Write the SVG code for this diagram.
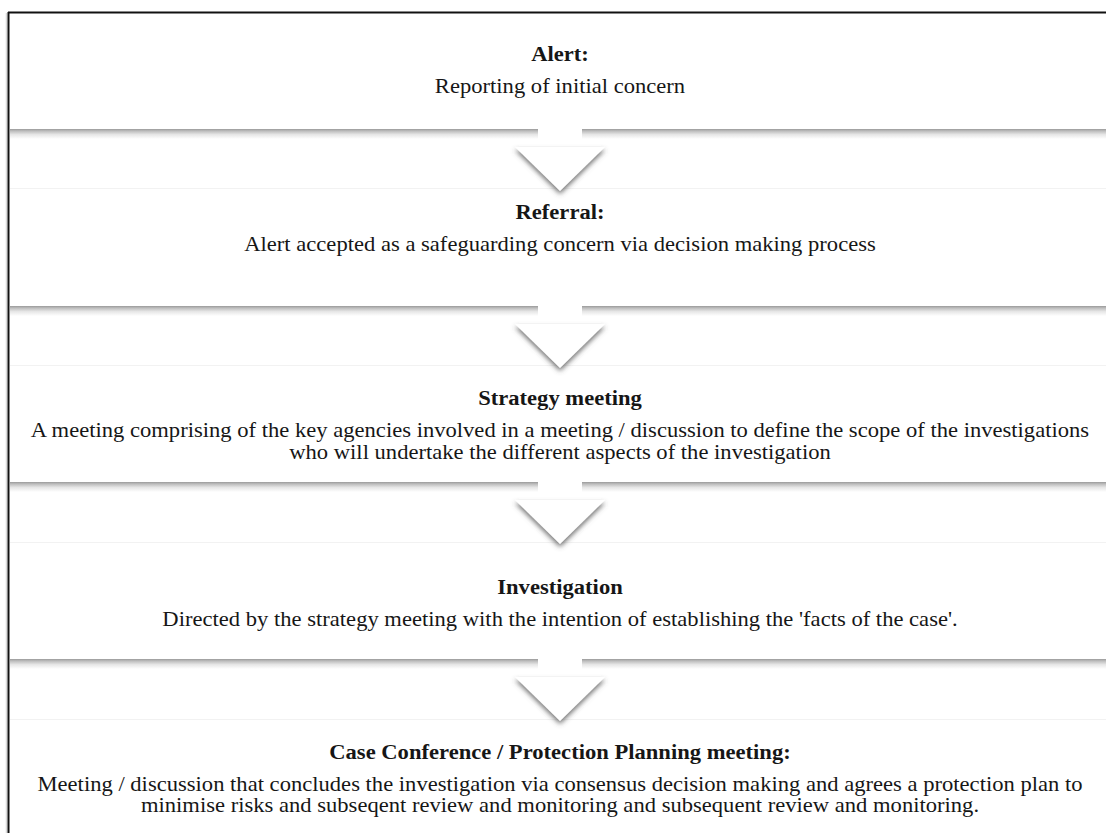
<svg xmlns="http://www.w3.org/2000/svg" width="1106" height="833" viewBox="0 0 1106 833">
<style>
.t{font-family:"Liberation Serif","DejaVu Serif",serif;font-size:20px;fill:#161616;text-anchor:middle}
.h{font-weight:bold}
.band{fill:url(#bandg)}
.top{stroke:#f2f2f2;stroke-width:1}
</style>
<defs>
<linearGradient id="bandg" x1="0" y1="0" x2="0" y2="1">
<stop offset="0" stop-color="#9a9a9a"/>
<stop offset="0.2" stop-color="#bdbdbd"/>
<stop offset="0.55" stop-color="#e6e6e6"/>
<stop offset="1" stop-color="#ffffff"/>
</linearGradient>
<filter id="sh" x="-20%" y="-20%" width="140%" height="170%">
<feGaussianBlur in="SourceAlpha" stdDeviation="2.4"/>
<feOffset dx="0" dy="3" result="b"/>
<feFlood flood-color="#505050" flood-opacity="0.8"/>
<feComposite in2="b" operator="in"/>
<feMerge><feMergeNode/><feMergeNode in="SourceGraphic"/></feMerge>
</filter>
<g id="arr">
<rect x="538" y="-1" width="44" height="21" fill="#ffffff"/>
<polygon points="515,18 605,18 560,62" fill="#ffffff" filter="url(#sh)"/>
</g>
</defs>
<rect width="1106" height="833" fill="#ffffff"/>

<g id="frame">
<line x1="6.5" y1="13" x2="6.5" y2="833" stroke="#d8d8d8" stroke-width="1.5"/>
<line x1="8.5" y1="12" x2="8.5" y2="833" stroke="#111" stroke-width="2"/>
<line x1="8" y1="12.5" x2="1106" y2="12.5" stroke="#111" stroke-width="2"/>
</g>

<g id="node-alert">
<rect class="band" x="10" y="129" width="1096" height="10"/>
<text class="t h" transform="translate(560 61) scale(1.13 1)">Alert:</text>
<text class="t" transform="translate(560 93) scale(1.13 1)">Reporting of initial concern</text>
</g>

<g id="node-referral">
<line class="top" x1="10" y1="188.5" x2="1106" y2="188.5"/>
<rect class="band" x="10" y="306" width="1096" height="10"/>
<text class="t h" transform="translate(560 219) scale(1.13 1)">Referral:</text>
<text class="t" transform="translate(560 251) scale(1.13 1)">Alert accepted as a safeguarding concern via decision making process</text>
</g>

<g id="node-strategy">
<line class="top" x1="10" y1="365.5" x2="1106" y2="365.5"/>
<rect class="band" x="10" y="482" width="1096" height="10"/>
<text class="t h" transform="translate(560 405) scale(1.13 1)">Strategy meeting</text>
<text class="t" transform="translate(560 437) scale(1.13 1)">A meeting comprising of the key agencies involved in a meeting / discussion to define the scope of the investigations</text>
<text class="t" transform="translate(560 459) scale(1.13 1)">who will undertake the different aspects of the investigation</text>
</g>

<g id="node-investigation">
<line class="top" x1="10" y1="542.5" x2="1106" y2="542.5"/>
<rect class="band" x="10" y="659" width="1096" height="10"/>
<text class="t h" transform="translate(560 594) scale(1.13 1)">Investigation</text>
<text class="t" transform="translate(560 626) scale(1.13 1)">Directed by the strategy meeting with the intention of establishing the 'facts of the case'.</text>
</g>

<g id="node-case">
<line class="top" x1="10" y1="719.5" x2="1106" y2="719.5"/>
<text class="t h" transform="translate(560 759) scale(1.13 1)">Case Conference / Protection Planning meeting:</text>
<text class="t" transform="translate(560 791) scale(1.13 1)">Meeting / discussion that concludes the investigation via consensus decision making and agrees a protection plan to</text>
<text class="t" transform="translate(560 812) scale(1.13 1)">minimise risks and subseqent review and monitoring and subsequent review and monitoring.</text>
</g>

<g id="connectors">
<use href="#arr" transform="translate(0 129)"/>
<use href="#arr" transform="translate(0 306)"/>
<use href="#arr" transform="translate(0 482)"/>
<use href="#arr" transform="translate(0 659)"/>
</g>
</svg>
